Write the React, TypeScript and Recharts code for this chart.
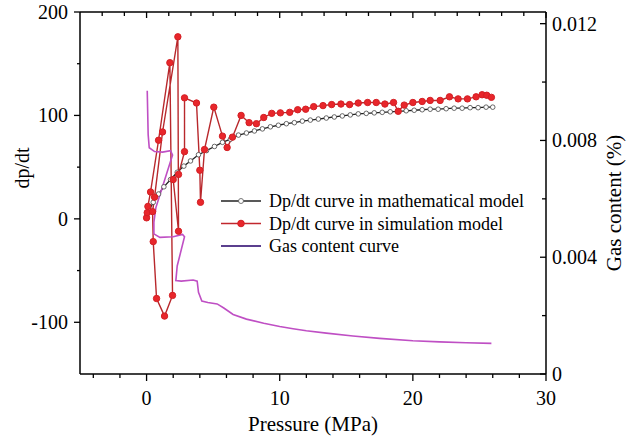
import React from "react";
import { LineChart, Line, XAxis, YAxis, Legend, Label } from "recharts";

const SERIF = "Liberation Serif";

// Dp/dt, mathematical model
const mathPressure = [
  0.2, 0.5, 0.9, 1.3, 1.8, 2.3, 2.8, 3.3, 3.9, 4.5, 5.1, 5.7, 6.3, 6.9, 7.5, 8.1, 8.7, 9.3, 9.9, 10.5,
  11.1, 11.7, 12.3, 12.9, 13.5, 14.1, 14.7, 15.3, 15.9, 16.5, 17.1, 17.7, 18.3, 18.9, 19.5, 20.1, 20.7,
  21.3, 21.9, 22.5, 23.1, 23.7, 24.3, 24.9, 25.5, 26.0,
];
const mathDpdt = [
  8, 16, 24, 31, 38, 45, 51, 56, 62, 66, 70, 74, 77, 81, 83, 85, 87, 89, 90.5, 92, 93, 94.5, 95.5, 96.5,
  97.5, 98.5, 99.5, 100.5, 101.5, 102, 102.5, 103, 103.5, 104, 104.5, 105, 105.5, 106, 106, 106.5, 107,
  107, 107.5, 107.5, 108, 108,
];

// Dp/dt, simulation model
const simPressure = [
  0.0, 0.05, 0.1, 0.3, 0.9, 1.75, 1.95, 1.35, 0.75, 0.5, 0.45, 0.6, 1.2, 2.35, 2.4, 2.0, 2.4, 2.85, 2.85,
  3.75, 4.0, 4.05, 4.35, 5.05, 5.7, 6.05, 6.45, 7.1, 7.7, 8.25, 8.8, 9.4, 10.05, 10.75, 11.35, 11.95,
  12.55, 13.25, 13.9, 14.6, 15.25, 15.9, 16.6, 17.25, 17.9, 18.55, 18.9, 19.35, 20.0, 20.7, 21.3, 22.05,
  22.75, 23.4, 24.1, 24.75, 25.2, 25.55, 25.9,
];
const simDpdt = [
  1, 6, 12, 26, 76, 151, -74, -94, -77, -22, 7, 21, 84, 176, -12, 38, 43, 65, 117, 112, 47, 16, 67, 108,
  80, 69, 79, 100, 93, 92, 98, 102, 102.5, 103, 105.5, 106, 108.5, 109.5, 110.5, 111, 110.5, 112, 112.5,
  112.5, 111, 112.5, 104, 110, 112.5, 113.5, 114.5, 114.5, 118, 116, 116, 118, 120, 119.5, 117.5,
];

// Gas content (%)
const gasPressure = [
  0.05, 0.12, 0.2, 0.6, 1.2, 1.8, 1.95, 0.7, 0.55, 0.55, 1.0, 2.0, 2.7, 2.85, 2.3, 2.2, 2.6, 3.5, 3.8,
  3.9, 4.15, 4.6, 5.3, 5.8, 6.5, 7.5, 8.8, 10.0, 11.0, 12.0, 13.5, 15.5, 17.5, 20.0, 22.0, 24.0, 25.9,
];
const gasContent = [
  0.0097, 0.0082, 0.00775, 0.00762, 0.0076, 0.00765, 0.0075, 0.0057, 0.0052, 0.0048, 0.00468, 0.0047,
  0.00478, 0.0047, 0.0037, 0.0032, 0.00318, 0.00322, 0.00318, 0.0028, 0.0025, 0.00245, 0.0024, 0.00226,
  0.00204, 0.00188, 0.00174, 0.00163, 0.00155, 0.00148, 0.0014, 0.0013, 0.00122, 0.00114, 0.0011,
  0.00107, 0.00105,
];

const xTicks = [-4, -2, 0, 2, 4, 6, 8, 10, 12, 14, 16, 18, 20, 22, 24, 26, 28, 30];
const topTicks = [
  -3.333, -1.667, 0, 1.667, 3.333, 5, 6.667, 8.333, 10, 11.667, 13.333, 15, 16.667, 18.333, 20, 21.667,
  23.333, 25, 26.667, 28.333, 30,
];
const leftTicks = [-100, -50, 0, 50, 100, 150, 200];
const rightTicks = [0, 0.002, 0.004, 0.006, 0.008, 0.01, 0.012];

const legendNames = [
  "Dp/dt curve in mathematical model",
  "Dp/dt curve in simulation model",
  "Gas content curve",
];

const toPoints = (xs: number[], ys: number[]) => xs.map((x, i) => ({ x, y: ys[i] }));
const mathData = toPoints(mathPressure, mathDpdt);
const simData = toPoints(simPressure, simDpdt);
const gasData = toPoints(gasPressure, gasContent);

const AXIS = { stroke: "#000", strokeWidth: 1.5 };

const BottomTick = (props: any) => {
  const { x, y, payload } = props;
  const major = payload.value % 10 === 0;
  return (
    <g>
      <line x1={x} x2={x} y1={y} y2={y + (major ? 7 : 4)} stroke="#000" strokeWidth={1.3} />
      {major && (
        <text x={x} y={y + 31} textAnchor="middle" fill="#000" fontFamily={SERIF} fontSize={20}>
          {payload.value}
        </text>
      )}
    </g>
  );
};

const TopTick = (props: any) => {
  const { x, y, payload } = props;
  const major = Math.abs(payload.value % 10) < 0.01;
  return <line x1={x} x2={x} y1={y} y2={y + (major ? 6 : 4)} stroke="#000" strokeWidth={1.3} />;
};

const LeftTick = (props: any) => {
  const { x, y, payload } = props;
  const major = payload.value % 100 === 0;
  return (
    <g>
      <line x1={x - (major ? 6 : 3)} x2={x} y1={y} y2={y} stroke="#000" strokeWidth={1.3} />
      {major && (
        <text x={x - 12} y={y} dy="0.35em" textAnchor="end" fill="#000" fontFamily={SERIF} fontSize={20}>
          {payload.value}
        </text>
      )}
    </g>
  );
};

const RightTick = (props: any) => {
  const { x, y, payload } = props;
  const major = Math.round(payload.value * 1000) % 4 === 0;
  return (
    <g>
      <line x1={x - (major ? 6 : 4)} x2={x} y1={y} y2={y} stroke="#000" strokeWidth={1.3} />
      {major && (
        <text x={x + 6} y={y} dy="0.35em" textAnchor="start" fill="#000" fontFamily={SERIF} fontSize={20}>
          {payload.value}
        </text>
      )}
    </g>
  );
};

const renderLegend = () => (
  <svg width={330} height={70} style={{ display: "block" }}>
    {legendNames.map((name, i) => {
      const cy = 12 + i * 22.5;
      const stroke = i === 0 ? "#222" : i === 1 ? "#c1272d" : "#5b3f8e";
      return (
        <g key={name}>
          <line x1={6} x2={46} y1={cy} y2={cy} stroke={stroke} strokeWidth={i === 2 ? 2.2 : 1.4} />
          {i === 0 && <circle cx={26} cy={cy} r={2.5} fill="#fff" stroke="#555" strokeWidth={0.8} />}
          {i === 1 && <circle cx={26} cy={cy} r={3.3} fill="#e8262b" stroke="#d42025" />}
          <text x={54} y={cy} dy="0.35em" fill="#000" fontFamily={SERIF} fontSize={18}>
            {name}
          </text>
        </g>
      );
    })}
  </svg>
);

export default function App() {
  return (
    <div style={{ position: "absolute", left: 0, top: 0, background: "#fff" }}>
      <LineChart width={636} height={438} margin={{ top: 4, right: 0, bottom: 0, left: 0 }}>
        <XAxis
          xAxisId="b"
          dataKey="x"
          type="number"
          domain={[-5, 30]}
          ticks={xTicks}
          interval={0}
          allowDataOverflow
          height={64}
          tickSize={0}
          tickMargin={0}
          tickLine={false}
          tick={<BottomTick />}
          axisLine={AXIS}
        >
          <Label
            content={() => (
              <text x={313} y={431} textAnchor="middle" fill="#000" fontFamily={SERIF} fontSize={21}>
                Pressure (MPa)
              </text>
            )}
          />
        </XAxis>
        <XAxis
          xAxisId="t"
          orientation="top"
          dataKey="x"
          type="number"
          domain={[-5, 30]}
          ticks={topTicks}
          interval={0}
          allowDataOverflow
          height={8}
          tickSize={0}
          tickMargin={0}
          tickLine={false}
          tick={<TopTick />}
          axisLine={AXIS}
        />
        <YAxis
          yAxisId="l"
          orientation="left"
          width={80}
          type="number"
          domain={[-150, 200]}
          ticks={leftTicks}
          interval={0}
          allowDataOverflow
          tickSize={0}
          tickMargin={0}
          tickLine={false}
          tick={<LeftTick />}
          axisLine={AXIS}
        >
          <Label
            content={() => (
              <text
                x={22}
                y={168}
                transform="rotate(-90, 22, 168)"
                textAnchor="middle"
                dominantBaseline="central"
                fill="#000"
                fontFamily={SERIF}
                fontSize={20}
              >
                dp/dt
              </text>
            )}
          />
        </YAxis>
        <YAxis
          yAxisId="r"
          orientation="right"
          width={90}
          type="number"
          domain={[0, 0.0124]}
          ticks={rightTicks}
          interval={0}
          allowDataOverflow
          tickSize={0}
          tickMargin={0}
          tickLine={false}
          tick={<RightTick />}
          axisLine={AXIS}
        >
          <Label
            content={() => (
              <text
                x={614}
                y={203}
                transform="rotate(-90, 614, 203)"
                textAnchor="middle"
                dominantBaseline="central"
                fill="#000"
                fontFamily={SERIF}
                fontSize={21}
              >
                Gas content (%)
              </text>
            )}
          />
        </YAxis>
        <Line
          xAxisId="b"
          yAxisId="l"
          data={mathData}
          dataKey="y"
          type="linear"
          stroke="#222"
          strokeWidth={1.3}
          dot={{ r: 2.3, fill: "#fff", stroke: "#444", strokeWidth: 0.8 }}
          isAnimationActive={false}
        />
        <Line
          xAxisId="b"
          yAxisId="l"
          data={simData}
          dataKey="y"
          type="linear"
          stroke="#b8282c"
          strokeWidth={1.4}
          dot={{ r: 3.2, fill: "#e8262b", stroke: "#d42025", strokeWidth: 1 }}
          isAnimationActive={false}
        />
        <Line
          xAxisId="b"
          yAxisId="r"
          data={gasData}
          dataKey="y"
          type="linear"
          stroke="#bf4fc4"
          strokeWidth={1.6}
          dot={false}
          isAnimationActive={false}
        />
        <Legend
          layout="vertical"
          align="center"
          verticalAlign="middle"
          content={renderLegend}
          wrapperStyle={{ position: "absolute", left: 215, top: 189, width: 330, height: 70 }}
        />
      </LineChart>
    </div>
  );
}
